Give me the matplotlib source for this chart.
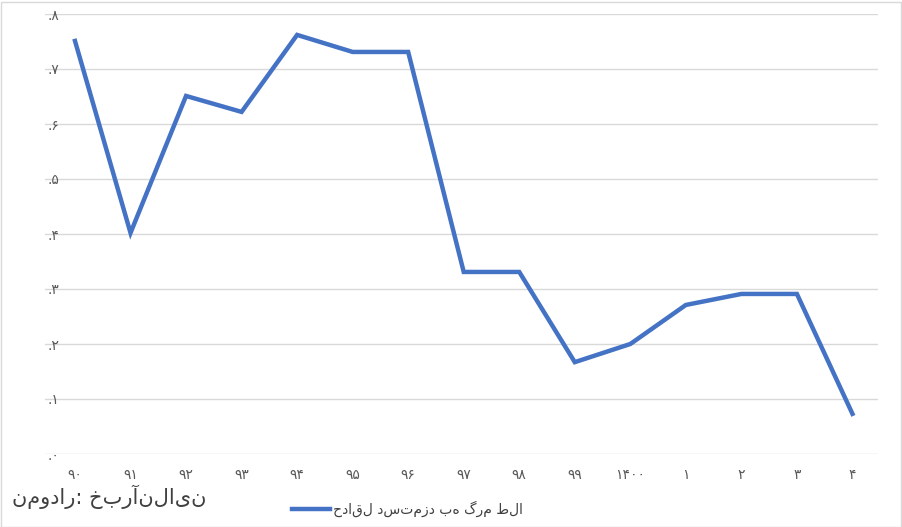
import matplotlib
matplotlib.use("Agg")
import matplotlib.pyplot as plt
from matplotlib.patches import Rectangle

years = ["۹۰","۹۱","۹۲","۹۳","۹۴","۹۵","۹۶","۹۷","۹۸","۹۹","۱۴۰۰","۱","۲","۳","۴"]
values = [0.751,0.402,0.651,0.622,0.762,0.731,0.731,0.331,0.331,0.167,0.200,0.271,0.291,0.291,0.073]
yticks = [0,0.1,0.2,0.3,0.4,0.5,0.6,0.7,0.8]
ylabels = [".۰",".۱",".۲",".۳",".۴",".۵",".۶",".۷",".۸"]
series_name = "حداقل دستمزد به گرم طلا"
source = "نمودار: خبرآنلاین"

plt.rcParams['font.family'] = ['DejaVu Sans']
fig = plt.figure(figsize=(9.02,5.27), dpi=100)
ax = fig.add_axes([45/902, 1-454/527, 833/902, 440/527])
x = list(range(len(years)))
ax.plot(x, values, color='#4472C4', lw=3.2, solid_joinstyle='miter')
ax.set_xlim(-0.54, 14.46)
ax.set_ylim(0, 0.8)
ax.set_yticks(yticks)
ax.set_yticklabels(ylabels, fontsize=10, color='#595959')
ax.set_xticks(x)
ax.set_xticklabels(years, fontsize=10, color='#595959')
ax.tick_params(length=0)
ax.tick_params(axis='x', pad=10)
ax.tick_params(axis='y', pad=-10)
ax.grid(axis='y', color='#D9D9D9', lw=1)
for s in ax.spines.values():
    s.set_visible(False)
ax.set_axisbelow(True)
fig.text(12/902, 1-497/527, source, fontsize=15, color='#404040', va='center')
fig.lines.append(plt.Line2D([292/902, 330/902], [1-509/527]*2, color='#4472C4', lw=3.2, transform=fig.transFigure))
fig.text(333/902, 1-509/527, series_name, fontsize=10, color='#404040', va='center')
fig.patches.append(Rectangle((0.5/902,0.5/527), 900/902, 525/527, fill=False, ec='#D9D9D9', lw=1, transform=fig.transFigure))
fig.savefig("out.png", dpi=100)
